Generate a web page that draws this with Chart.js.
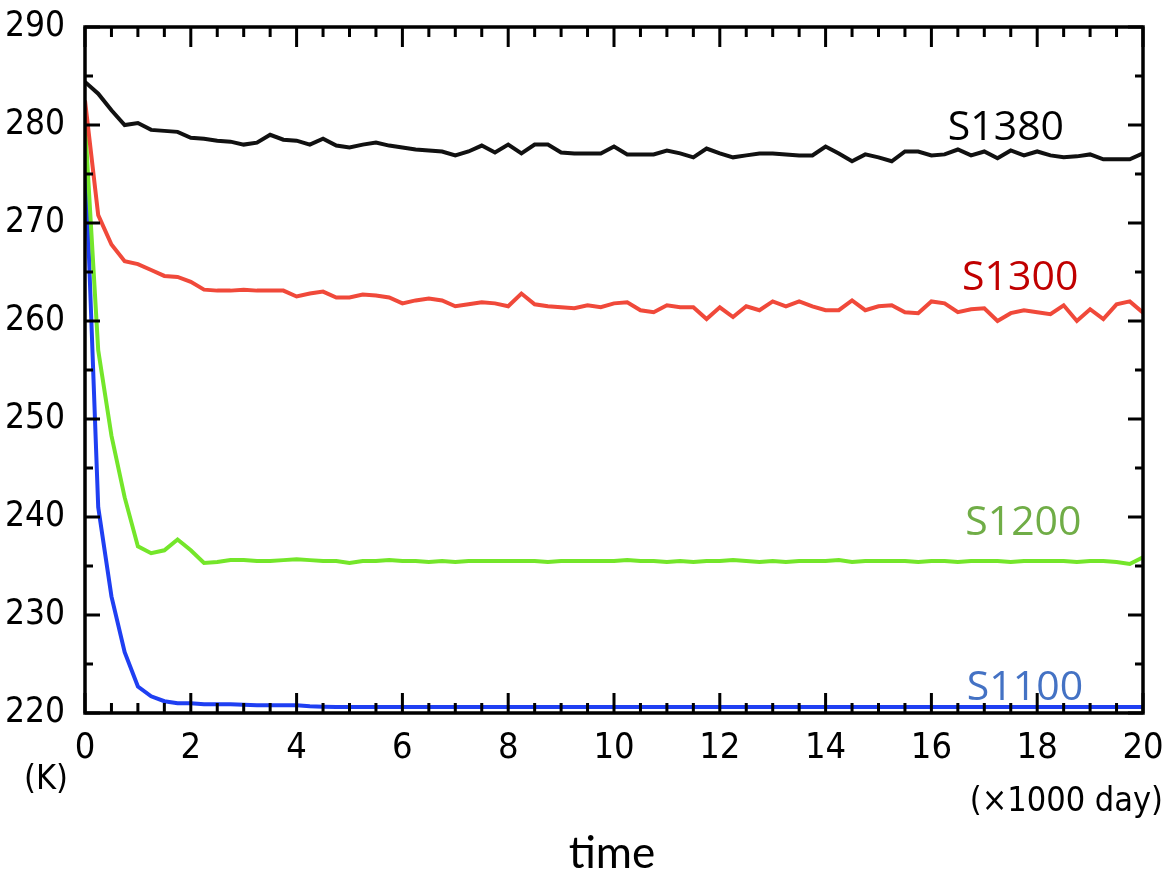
<!DOCTYPE html>
<html>
<head>
<meta charset="utf-8">
<script src="https://cdn.jsdelivr.net/npm/chart.js@4.4.1/dist/chart.umd.min.js"></script>
<style>
  html, body { margin: 0; padding: 0; background: #fff; }
  #wrap { width: 1170px; height: 879px; }
</style>
</head>
<body>
<div id="wrap"><canvas id="tempChart" width="1170" height="879"></canvas></div>
<script>
// time in units of 1000 days
const days = [0, 0.25, 0.5, 0.75, 1, 1.25, 1.5, 1.75, 2, 2.25, 2.5, 2.75, 3, 3.25, 3.5, 3.75,
  4, 4.25, 4.5, 4.75, 5, 5.25, 5.5, 5.75, 6, 6.25, 6.5, 6.75, 7, 7.25, 7.5, 7.75,
  8, 8.25, 8.5, 8.75, 9, 9.25, 9.5, 9.75, 10, 10.25, 10.5, 10.75, 11, 11.25, 11.5, 11.75,
  12, 12.25, 12.5, 12.75, 13, 13.25, 13.5, 13.75, 14, 14.25, 14.5, 14.75, 15, 15.25, 15.5, 15.75,
  16, 16.25, 16.5, 16.75, 17, 17.25, 17.5, 17.75, 18, 18.25, 18.5, 18.75, 19, 19.25, 19.5, 19.75, 20];

const s1380 = [284.4, 283.2, 281.5, 280.0, 280.2, 279.5, 279.4, 279.3, 278.7, 278.6, 278.4, 278.3, 278.0, 278.2, 279.0, 278.5,
  278.4, 278.0, 278.6, 277.9, 277.7, 278.0, 278.2, 277.9, 277.7, 277.5, 277.4, 277.3, 276.9, 277.3, 277.9, 277.2,
  278.0, 277.1, 278.0, 278.0, 277.2, 277.1, 277.1, 277.1, 277.8, 277.0, 277.0, 277.0, 277.4, 277.1, 276.7, 277.6,
  277.1, 276.7, 276.9, 277.1, 277.1, 277.0, 276.9, 276.9, 277.8, 277.1, 276.3, 277.0, 276.7, 276.3, 277.3, 277.3,
  276.9, 277.0, 277.5, 276.9, 277.3, 276.6, 277.4, 276.9, 277.3, 276.9, 276.7, 276.8, 277.0, 276.5, 276.5, 276.5, 277.1];

const s1300 = [282.5, 270.8, 267.8, 266.1, 265.8, 265.2, 264.6, 264.5, 264.0, 263.2, 263.1, 263.1, 263.2, 263.1, 263.1, 263.1,
  262.5, 262.8, 263.0, 262.4, 262.4, 262.7, 262.6, 262.4, 261.8, 262.1, 262.3, 262.1, 261.5, 261.7, 261.9, 261.8,
  261.5, 262.8, 261.7, 261.5, 261.4, 261.3, 261.6, 261.4, 261.8, 261.9, 261.1, 260.9, 261.6, 261.4, 261.4, 260.2,
  261.4, 260.4, 261.5, 261.1, 262.0, 261.5, 262.0, 261.5, 261.1, 261.1, 262.1, 261.1, 261.5, 261.6, 260.9, 260.8,
  262.0, 261.8, 260.9, 261.2, 261.3, 260.0, 260.8, 261.1, 260.9, 260.7, 261.6, 260.0, 261.2, 260.2, 261.7, 262.0, 260.85];

const s1200 = [280.2, 257.0, 248.3, 242.0, 237.0, 236.3, 236.6, 237.7, 236.6, 235.3, 235.4, 235.6, 235.6, 235.5, 235.5, 235.6,
  235.7, 235.6, 235.5, 235.5, 235.3, 235.5, 235.5, 235.6, 235.5, 235.5, 235.4, 235.5, 235.4, 235.5, 235.5, 235.5,
  235.5, 235.5, 235.5, 235.4, 235.5, 235.5, 235.5, 235.5, 235.5, 235.6, 235.5, 235.5, 235.4, 235.5, 235.4, 235.5,
  235.5, 235.6, 235.5, 235.4, 235.5, 235.4, 235.5, 235.5, 235.5, 235.6, 235.4, 235.5, 235.5, 235.5, 235.5, 235.4,
  235.5, 235.5, 235.4, 235.5, 235.5, 235.5, 235.4, 235.5, 235.5, 235.5, 235.5, 235.4, 235.5, 235.5, 235.4, 235.2, 235.9];

const s1100 = [277.6, 241.0, 231.9, 226.2, 222.7, 221.7, 221.2, 221.0, 221.0, 220.9, 220.9, 220.9, 220.85, 220.8, 220.8, 220.8,
  220.8, 220.7, 220.65, 220.6, 220.6, 220.6, 220.6, 220.6, 220.6, 220.6, 220.6, 220.6, 220.6, 220.6, 220.6, 220.6,
  220.6, 220.6, 220.6, 220.6, 220.6, 220.6, 220.6, 220.6, 220.6, 220.6, 220.6, 220.6, 220.6, 220.6, 220.6, 220.6,
  220.6, 220.6, 220.6, 220.6, 220.6, 220.6, 220.6, 220.6, 220.6, 220.6, 220.6, 220.6, 220.6, 220.6, 220.6, 220.6,
  220.6, 220.6, 220.6, 220.6, 220.6, 220.6, 220.6, 220.6, 220.6, 220.6, 220.6, 220.6, 220.6, 220.6, 220.6, 220.6, 220.6];

const seriesNames = ['S1380', 'S1300', 'S1200', 'S1100'];
const lineColors = ['#111111', '#f0493a', '#74e62a', '#1f3ff2'];
const labelColors = ['#000000', '#c00000', '#70ad47', '#4472c4'];
// where each series name sits (x in 1000 days, y in K at text baseline)
const labelX = [16.31, 16.58, 16.64, 16.67];
const labelY = [278.5, 263.2, 238.2, 221.35];

const narrow = "'Liberation Sans Narrow', 'DejaVu Sans Condensed', sans-serif";

function toPoints(vals) {
  return vals.map((v, i) => ({ x: days[i], y: v }));
}

const frameAndText = {
  id: 'frameAndText',
  afterDatasetsDraw(chart) {
    const { ctx, chartArea: a, scales: { x, y } } = chart;
    ctx.save();
    ctx.strokeStyle = '#000';
    ctx.lineWidth = 3;
    ctx.beginPath();
    for (let v = 0; v <= 20; v += 0.5) {
      const px = x.getPixelForValue(v);
      const len = v % 2 === 0 ? 20 : 10;
      ctx.moveTo(px, a.bottom); ctx.lineTo(px, a.bottom - len);
      ctx.moveTo(px, a.top); ctx.lineTo(px, a.top + len);
    }
    for (let v = 220; v <= 290; v += 5) {
      const py = y.getPixelForValue(v);
      const len = v % 10 === 0 ? 15 : 8;
      ctx.moveTo(a.left, py); ctx.lineTo(a.left + len, py);
      ctx.moveTo(a.right, py); ctx.lineTo(a.right - len, py);
    }
    ctx.stroke();
    ctx.lineWidth = 3.5;
    ctx.strokeRect(a.left, a.top, a.width, a.height);

    // series names
    ctx.font = "41px 'Open Sans', sans-serif";
    ctx.textAlign = 'left';
    ctx.textBaseline = 'alphabetic';
    seriesNames.forEach((name, i) => {
      ctx.fillStyle = labelColors[i];
      ctx.fillText(name, x.getPixelForValue(labelX[i]), y.getPixelForValue(labelY[i]));
    });

    // unit labels and axis title
    ctx.fillStyle = '#000';
    ctx.font = '34px ' + narrow;
    ctx.textAlign = 'center';
    ctx.fillText('(K)', 46, a.bottom + 76);
    ctx.textAlign = 'right';
    ctx.fillText('(\u00d71000 day)', 1163, a.bottom + 98);
    ctx.textAlign = 'center';
    ctx.font = "44px Lato, 'Open Sans', sans-serif";
    ctx.fillText('time', (a.left + a.right) / 2 - 2, a.bottom + 155);
    ctx.restore();
  }
};

const ctx = document.getElementById('tempChart').getContext('2d');
new Chart(ctx, {
  type: 'line',
  data: {
    datasets: [s1380, s1300, s1200, s1100].map((vals, i) => ({
      label: seriesNames[i],
      data: toPoints(vals),
      borderColor: lineColors[i],
      borderWidth: 4,
      pointRadius: 0,
      tension: 0,
      fill: false
    }))
  },
  options: {
    responsive: false,
    animation: false,
    devicePixelRatio: 1,
    layout: { padding: { top: 27, right: 27, left: 0, bottom: 0 } },
    plugins: { legend: { display: false }, tooltip: { enabled: false } },
    scales: {
      x: {
        type: 'linear',
        min: 0,
        max: 20,
        grid: { display: false, drawTicks: false },
        border: { display: false },
        ticks: { stepSize: 2, color: '#000', padding: 14, maxRotation: 0,
          font: { family: narrow, size: 36 } },
        afterFit(scale) {
          scale.height = 166;
          scale.paddingLeft = 0;
          scale.paddingRight = 0;
        }
      },
      y: {
        min: 220,
        max: 290,
        grid: { display: false, drawTicks: false },
        border: { display: false },
        ticks: { stepSize: 10, color: '#000', padding: 20,
          font: { family: narrow, size: 35 } },
        afterFit(scale) {
          scale.width = 85;
          scale.paddingTop = 0;
          scale.paddingBottom = 0;
        }
      }
    }
  },
  plugins: [frameAndText]
});
</script>
</body>
</html>
